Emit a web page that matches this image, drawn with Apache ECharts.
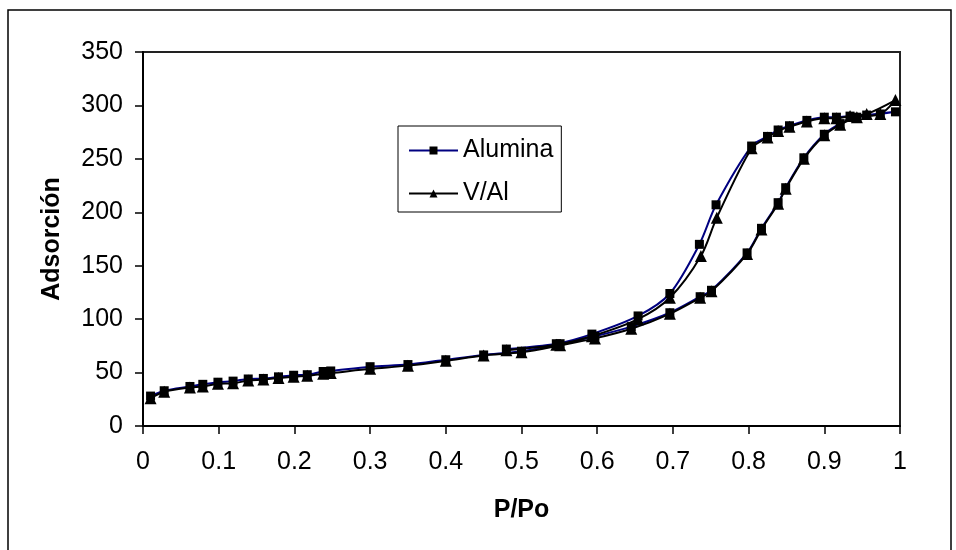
<!DOCTYPE html>
<html>
<head>
<meta charset="utf-8">
<script src="https://cdn.jsdelivr.net/npm/echarts@6/dist/echarts.min.js"></script>
<style>
  html, body { margin: 0; padding: 0; background: #fff; }
  #chart { width: 956px; height: 550px; }
</style>
</head>
<body>
<div id="chart"></div>
<script>
// Nitrogen isotherms: adsorption branch up to P/Po ~ 1, then desorption back down.
const aluminaP = [
  0.010, 0.028, 0.062, 0.079, 0.099, 0.119, 0.139, 0.159, 0.179, 0.199,
  0.217, 0.238, 0.248, 0.300, 0.350, 0.400, 0.450, 0.500, 0.551, 0.597,
  0.645, 0.696, 0.736, 0.751, 0.798, 0.817, 0.839, 0.849, 0.873, 0.900,
  0.921, 0.943, 0.974, 0.994,
  0.956, 0.934, 0.916, 0.900, 0.877, 0.854, 0.839, 0.825, 0.804, 0.757,
  0.735, 0.696, 0.654, 0.593, 0.546, 0.480
];
const aluminaAds = [
  28, 33, 37, 39, 41, 42, 44, 44.5, 46, 47.5,
  48, 51, 51.5, 55.5, 57.5, 62, 66.5, 70, 77, 84,
  93, 106, 121, 127, 162, 185, 209, 223, 251, 273,
  283, 289, 292, 294,
  291, 290, 289, 289, 286, 281, 277, 271, 262, 207,
  170, 124, 103, 86, 77, 72
];
const valP = [
  0.010, 0.028, 0.062, 0.079, 0.099, 0.119, 0.139, 0.159, 0.179, 0.199,
  0.217, 0.238, 0.248, 0.300, 0.350, 0.400, 0.450, 0.500, 0.551, 0.597,
  0.645, 0.696, 0.736, 0.751, 0.798, 0.817, 0.839, 0.849, 0.873, 0.900,
  0.921, 0.943, 0.974, 0.994,
  0.956, 0.934, 0.916, 0.900, 0.877, 0.854, 0.839, 0.825, 0.804, 0.758,
  0.737, 0.696, 0.654, 0.593, 0.546, 0.480
];
const valAds = [
  26, 32, 36, 37, 39.5, 40, 42.5, 43.5, 45, 46,
  47, 49, 49.5, 53.5, 56.5, 61, 66, 69, 75.5, 82,
  91, 105, 120, 126, 161, 184, 208, 222, 250, 272,
  282, 289, 292, 305,
  292, 290, 288, 288, 285, 280, 276, 270, 260, 195,
  159, 120, 100, 84, 76, 71
];
const seriesNames = ['Alumina', 'V/Al'];
const xTicks = [0, 0.1, 0.2, 0.3, 0.4, 0.5, 0.6, 0.7, 0.8, 0.9, 1];
const yTicks = [0, 50, 100, 150, 200, 250, 300, 350];

const FONT = '"Liberation Sans", Arial, sans-serif';
const FS = 25;
const pairs = (xs, ys) => xs.map((x, i) => [x, ys[i]]);

const chart = echarts.init(document.getElementById('chart'), null, { renderer: 'canvas' });
chart.setOption({
  animation: false,
  backgroundColor: '#fff',
  textStyle: { fontFamily: FONT },
  graphic: [{
    type: 'rect',
    shape: { x: 8, y: 10, width: 943, height: 560 },
    style: { fill: 'none', stroke: '#000', lineWidth: 1.5 },
    silent: true
  }],
  grid: {
    left: 143, right: 56, top: 52, bottom: 124,
    show: true, borderColor: '#222', borderWidth: 2, backgroundColor: '#fff'
  },
  legend: {
    left: 398, top: 126,
    orient: 'vertical',
    data: seriesNames,
    backgroundColor: '#fff',
    borderColor: '#000', borderWidth: 1,
    padding: [12, 8, 6, 10],
    itemGap: 18, itemWidth: 49, itemHeight: 10,
    textStyle: { fontFamily: FONT, fontSize: FS, color: '#000', lineHeight: 24, padding: [0, 0, 0, 0] }
  },
  xAxis: {
    type: 'value',
    min: xTicks[0], max: xTicks[xTicks.length - 1], interval: 0.1,
    name: 'P/Po', nameLocation: 'middle', nameGap: 72,
    nameTextStyle: { fontFamily: FONT, fontSize: FS, fontWeight: 'bold', color: '#000' },
    axisLine: { onZero: false, lineStyle: { color: '#000', width: 2 } },
    axisTick: { show: true, inside: false, length: 8, lineStyle: { color: '#000', width: 1.5 } },
    axisLabel: {
      margin: 24, fontFamily: FONT, fontSize: FS, color: '#000',
      formatter: v => String(Math.round(v * 10) / 10)
    },
    splitLine: { show: false }
  },
  yAxis: {
    type: 'value',
    min: yTicks[0], max: yTicks[yTicks.length - 1], interval: 50,
    name: 'Adsorción', nameLocation: 'middle', nameGap: 78,
    nameTextStyle: { fontFamily: FONT, fontSize: FS, fontWeight: 'bold', color: '#000' },
    axisLine: { onZero: false, lineStyle: { color: '#000', width: 2 } },
    axisTick: { show: true, inside: false, length: 8, lineStyle: { color: '#000', width: 1.5 } },
    axisLabel: { margin: 20, fontFamily: FONT, fontSize: FS, color: '#000' },
    splitLine: { show: false }
  },
  series: [
    {
      name: seriesNames[0], type: 'line',
      data: pairs(aluminaP, aluminaAds),
      smooth: 0.3,
      symbol: 'rect', symbolSize: 9,
      itemStyle: { color: '#000', borderWidth: 0 },
      lineStyle: { color: '#000080', width: 2 }
    },
    {
      name: seriesNames[1], type: 'line',
      data: pairs(valP, valAds),
      smooth: 0.3,
      symbol: 'triangle', symbolSize: 12,
      itemStyle: { color: '#000', borderWidth: 0 },
      lineStyle: { color: '#000', width: 2 }
    }
  ]
});
</script>
</body>
</html>
